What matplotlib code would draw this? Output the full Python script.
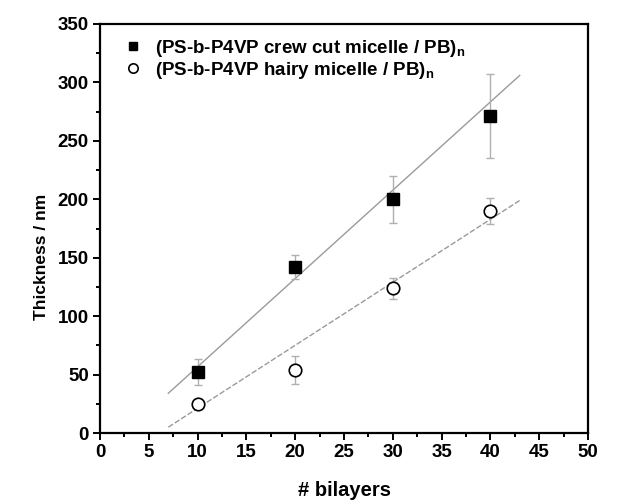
import matplotlib
matplotlib.use('Agg')
from matplotlib import pyplot as plt
from matplotlib.ticker import MultipleLocator
import numpy as np

plt.rcParams['font.family'] = ['Liberation Sans', 'DejaVu Sans']
plt.rcParams['font.weight'] = 'bold'

# bilayer counts and measured film thickness (nm)
bilayers = [10, 20, 30, 40]
crew_cut = [52, 142, 200, 271]
crew_cut_err = [11, 10, 20, 36]
hairy = [25, 54, 124, 190]
hairy_err = [4, 12, 9, 11]

# linear fit lines (end points)
fit_x = [7, 43]
crew_fit = [34, 306]
hairy_fit = [5, 199]


def main():
    fig = plt.figure(figsize=(6.18, 5.04), dpi=100)
    ax = fig.add_axes([100 / 618, 1 - 433 / 504, 488 / 618, 409 / 504])

    ax.plot(fit_x, crew_fit, '-', color='#9a9a9a', lw=1.0, zorder=1)
    ax.plot(fit_x, hairy_fit, '--', color='#9a9a9a', lw=1.0, dashes=(4, 1.5), zorder=1)

    ax.errorbar(bilayers, crew_cut, yerr=crew_cut_err, fmt='none', ecolor='#b0b0b0',
                elinewidth=1.0, capsize=3, capthick=1.0, zorder=2)
    ax.errorbar(bilayers, hairy, yerr=hairy_err, fmt='none', ecolor='#b0b0b0',
                elinewidth=1.0, capsize=3, capthick=1.0, zorder=2)
    ax.plot(bilayers, crew_cut, 's', color='black', ms=8.5, zorder=3,
            label=r'(PS-b-P4VP crew cut micelle / PB)$_\mathregular{n}$')
    ax.plot(bilayers, hairy, 'o', mfc='white', mec='black', mew=1.2, ms=9, zorder=3,
            label=r'(PS-b-P4VP hairy micelle / PB)$_\mathregular{n}$')

    ax.set_xlim(0, 50)
    ax.set_ylim(0, 350)
    ax.xaxis.set_major_locator(MultipleLocator(5))
    ax.xaxis.set_minor_locator(MultipleLocator(2.5))
    ax.yaxis.set_major_locator(MultipleLocator(50))
    ax.yaxis.set_minor_locator(MultipleLocator(25))
    ax.tick_params(which='both', direction='out', top=False, right=False,
                   labelsize=13.5, width=1.4)
    ax.tick_params(which='major', length=5, pad=3)
    ax.tick_params(which='minor', length=3)
    for s in ax.spines.values():
        s.set_linewidth(1.6)

    ax.set_xlabel('# bilayers', fontsize=14.5, fontweight='bold', labelpad=14)
    ax.set_ylabel('Thickness / nm', fontsize=12.5, fontweight='bold')
    ax.yaxis.set_label_coords(-0.104, 0.43)

    ax.legend(loc='upper left', frameon=False, fontsize=13.5, handletextpad=0.55,
              borderaxespad=0, labelspacing=0.05, markerscale=0.75,
              handlelength=1.2, bbox_to_anchor=(0.03, 0.985))

    fig.savefig('out.png', dpi=100)


if __name__ == '__main__':
    main()
